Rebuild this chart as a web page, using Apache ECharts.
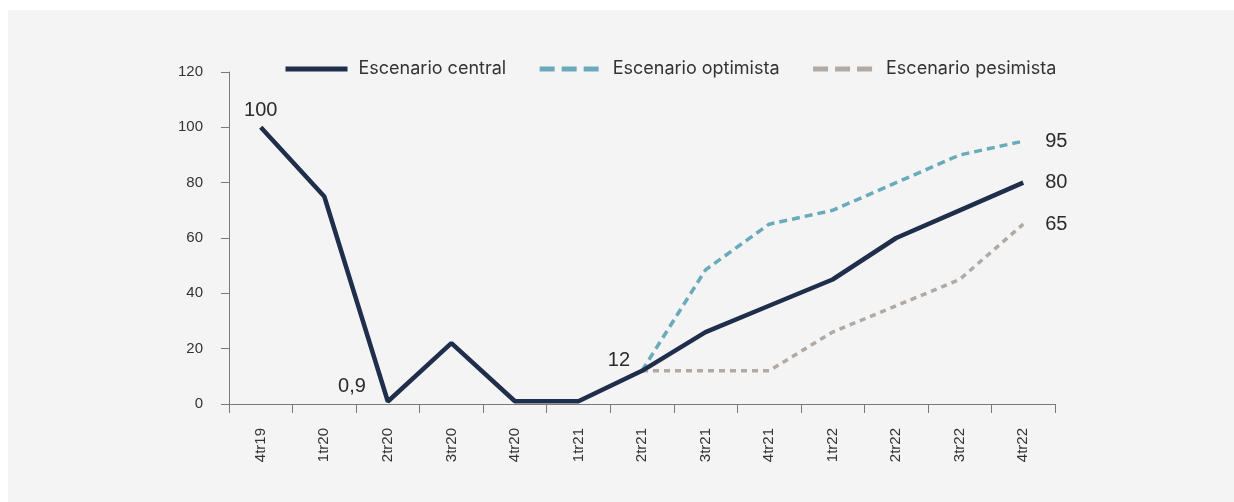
<!DOCTYPE html>
<html>
<head>
<meta charset="utf-8">
<script src="https://cdn.jsdelivr.net/npm/echarts@6/dist/echarts.min.js"></script>
<style>
  html, body { margin: 0; padding: 0; background: #fff; }
  #panel { position: absolute; left: 8px; top: 10px; width: 1226px; height: 492px; background: #f4f4f4; }
  #chart { position: absolute; left: 0; top: 0; width: 1234px; height: 502px; }
</style>
</head>
<body>
<div id="panel"></div>
<div id="chart"></div>
<script>
// trimestres
const quarters = ['4tr19', '1tr20', '2tr20', '3tr20', '4tr20', '1tr21', '2tr21', '3tr21', '4tr21', '1tr22', '2tr22', '3tr22', '4tr22']
const central = [100, 75, 0.9, 22, 1, 1, 12, 26, 35.5, 45, 60, 70, 80]
const optimista = [null, null, null, null, null, null, 12, 48.5, 65, 70, 80, 90, 95]
const pesimista = [null, null, null, null, null, null, 12, 12, 12, 26, 35.5, 45, 65]
const yTicks = [0, 20, 40, 60, 80, 100, 120]

const chart = echarts.init(document.getElementById('chart'))

function fmt(v) {
  return String(v).replace('.', ',')
}

const labelFont = { fontFamily: 'Liberation Sans', fontSize: 20, color: '#2b2b2b' }

// etiquetas solo en algunos puntos
function centralData() {
  return central.map((v, i) => {
    if (i === 0) return { value: v, label: { show: true, position: 'top', distance: 7 } }
    if (i === 2) return { value: v, label: { show: true, position: 'left', distance: 22, offset: [0, -15] } }
    if (i === 6) return { value: v, label: { show: true, position: 'left', distance: 12, offset: [0, -10] } }
    if (i === central.length - 1) return { value: v, label: { show: true, position: 'right', distance: 22 } }
    return v
  })
}

function lastLabel(arr) {
  return arr.map((v, i) => i === arr.length - 1
    ? { value: v, label: { show: true, position: 'right', distance: 22 } }
    : v)
}

const option = {
  animation: false,
  grid: { left: 229, right: 179, top: 72, bottom: 98 },
  legend: {
    left: 278,
    top: 55,
    itemWidth: 62,
    itemHeight: 18,
    itemGap: 31,
    itemStyle: { opacity: 0 },
    textStyle: { fontFamily: 'Inter', fontSize: 18, color: '#333', padding: [0, 0, 0, 6] },
    data: [
      { name: 'Escenario central', lineStyle: { width: 5 } },
      { name: 'Escenario optimista', lineStyle: { width: 5, type: [15, 7] } },
      { name: 'Escenario pesimista', lineStyle: { width: 5, type: [15, 7] } }
    ]
  },
  xAxis: {
    type: 'category',
    data: quarters,
    boundaryGap: true,
    axisLine: { lineStyle: { color: '#7a7a7a', width: 1 } },
    axisTick: { show: true, length: 9, lineStyle: { color: '#7a7a7a' } },
    axisLabel: { rotate: 90, margin: 24, fontFamily: 'Liberation Sans', fontSize: 15, color: '#333' }
  },
  yAxis: {
    type: 'value',
    min: yTicks[0],
    max: yTicks[yTicks.length - 1],
    interval: 20,
    splitLine: { show: false },
    axisLine: { show: true, lineStyle: { color: '#7a7a7a', width: 1 } },
    axisTick: { show: true, length: 8, lineStyle: { color: '#7a7a7a' } },
    axisLabel: { margin: 26, fontFamily: 'Liberation Sans', fontSize: 15, color: '#333' }
  },
  series: [
    {
      name: 'Escenario central',
      type: 'line',
      z: 4,
      symbol: 'circle',
      symbolSize: 0,
      data: centralData(),
      lineStyle: { color: '#1f2e4b', width: 4.5 },
      itemStyle: { color: '#1f2e4b' },
      label: Object.assign({ formatter: p => fmt(p.value) }, labelFont)
    },
    {
      name: 'Escenario optimista',
      type: 'line',
      z: 3,
      symbol: 'circle',
      symbolSize: 0,
      data: lastLabel(optimista),
      lineStyle: { color: '#6aabbb', width: 3.5, type: [8, 5] },
      itemStyle: { color: '#6aabbb' },
      label: Object.assign({ formatter: p => fmt(p.value) }, labelFont)
    },
    {
      name: 'Escenario pesimista',
      type: 'line',
      z: 2,
      symbol: 'circle',
      symbolSize: 0,
      data: lastLabel(pesimista),
      lineStyle: { color: '#b0a9a4', width: 3.5, type: [6, 5] },
      itemStyle: { color: '#b0a9a4' },
      label: Object.assign({ formatter: p => fmt(p.value) }, labelFont)
    }
  ]
}

chart.setOption(option)
</script>
</body>
</html>
